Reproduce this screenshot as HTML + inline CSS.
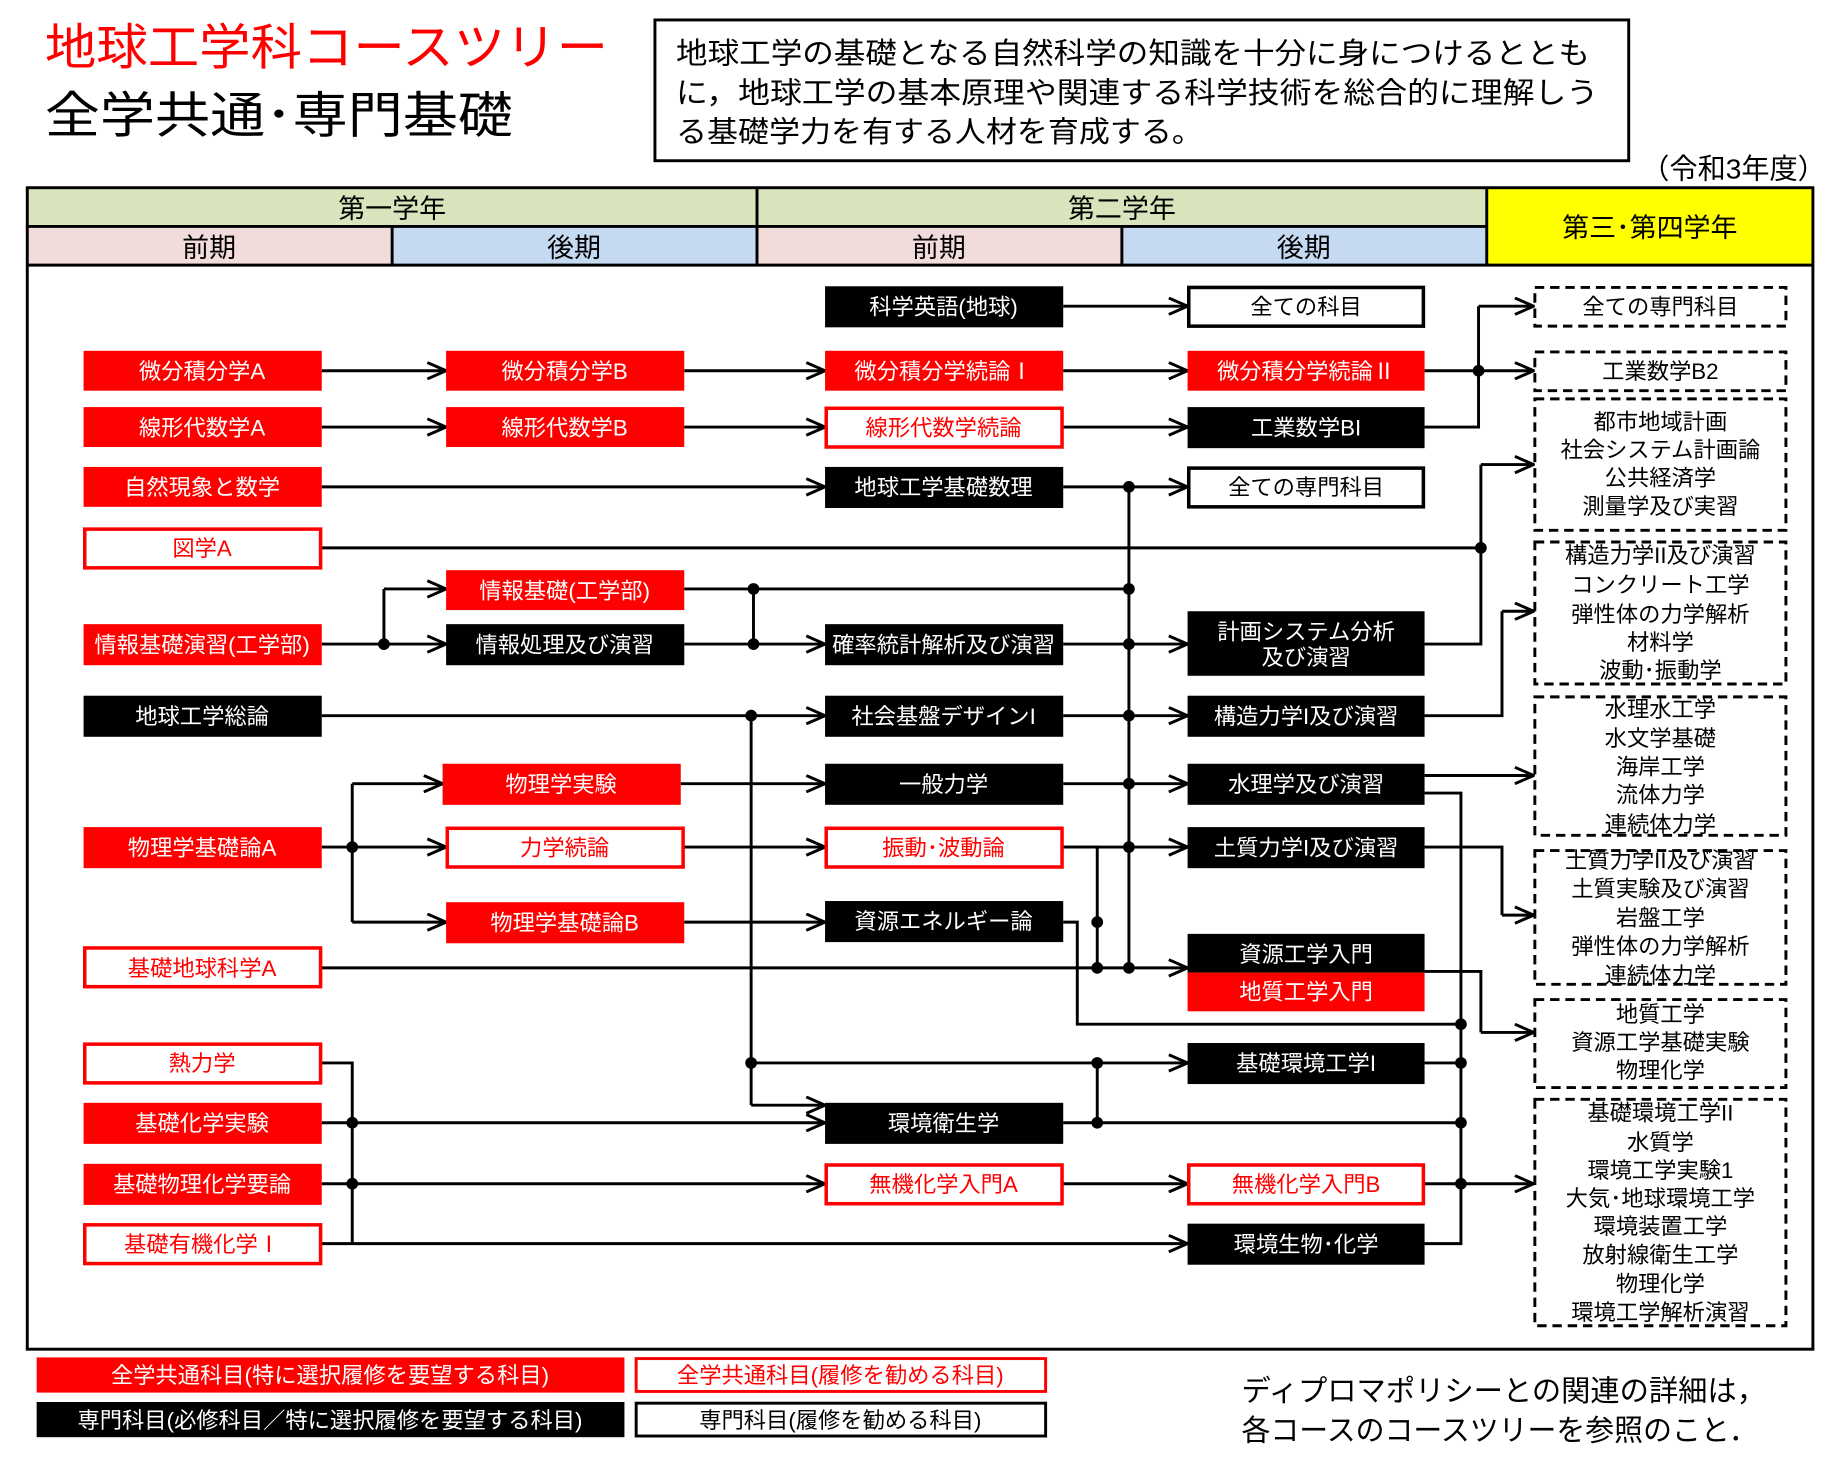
<!DOCTYPE html>
<html><head><meta charset="utf-8"><style>
html,body{margin:0;padding:0;background:#fff}
svg{display:block}
text{font-family:"Liberation Sans","Noto Sans CJK JP",sans-serif}
.r{fill:#f00}.ro{fill:#fff;stroke:#f00;stroke-width:3}.k{fill:#000}.ko{fill:#fff;stroke:#000;stroke-width:3}.d{fill:#fff;stroke:#000;stroke-width:2.5;stroke-dasharray:8 5}
.tw{fill:#fff;font-size:19px;text-anchor:middle}.tr{fill:#f00;font-size:19px;text-anchor:middle}.tb{fill:#000;font-size:19px;text-anchor:middle}
.l{fill:none;stroke:#000;stroke-width:2.5}
.a{fill:none;stroke:#000;stroke-width:2.5;marker-end:url(#ar)}
</style></head><body>
<svg width="1839" height="1463" viewBox="0 0 1567 1247" xmlns="http://www.w3.org/2000/svg">
<defs><marker id="ar" markerUnits="userSpaceOnUse" markerWidth="20" markerHeight="16" refX="18" refY="8" orient="auto"><polyline points="2,1 18,8 2,15" fill="none" stroke="#000" stroke-width="2.5"/></marker></defs>
<text x="38" y="55" font-size="42" fill="#f00" textLength="480" lengthAdjust="spacingAndGlyphs">地球工学科コースツリー</text>
<text x="38" y="113" font-size="42" fill="#000" textLength="399" lengthAdjust="spacingAndGlyphs">全学共通･専門基礎</text>
<rect x="558" y="17" width="830" height="120" fill="#fff" stroke="#000" stroke-width="2.5"/>
<text x="576" y="54" font-size="25" textLength="779" lengthAdjust="spacingAndGlyphs">地球工学の基礎となる自然科学の知識を十分に身につけるととも</text>
<text x="576" y="88" font-size="25" textLength="786" lengthAdjust="spacingAndGlyphs">に，地球工学の基本原理や関連する科学技術を総合的に理解しう</text>
<text x="576" y="121" font-size="25" textLength="449" lengthAdjust="spacingAndGlyphs">る基礎学力を有する人材を育成する。</text>
<text x="1556" y="152" font-size="24" text-anchor="end">（令和3年度）</text>
<rect x="23" y="160" width="622" height="33" fill="#d8e4bc"/><rect x="645" y="160" width="622" height="33" fill="#d8e4bc"/>
<rect x="23" y="193" width="311" height="33" fill="#f2dcdb"/><rect x="334" y="193" width="311" height="33" fill="#c5d9f1"/>
<rect x="645" y="193" width="311" height="33" fill="#f2dcdb"/><rect x="956" y="193" width="311" height="33" fill="#c5d9f1"/>
<rect x="1267" y="160" width="278" height="66" fill="#ff0"/>
<rect x="23" y="160" width="1522" height="990" fill="none" stroke="#000" stroke-width="2.5"/>
<path class="l" d="M23 193H1267M23 226H1545M645 160V226M334 193V226M956 193V226M1267 160V226"/>
<g font-size="23" text-anchor="middle"><text x="334" y="186">第一学年</text><text x="956" y="186">第二学年</text><text x="178" y="219">前期</text><text x="489" y="219">後期</text><text x="800" y="219">前期</text><text x="1111" y="219">後期</text><text x="1406" y="202">第三･第四学年</text></g>
<!-- connectors -->
<path class="a" d="M906 261H1012"/>
<path class="a" d="M274 316H380"/><path class="a" d="M583 316H703"/><path class="a" d="M906 316H1012"/>
<path class="a" d="M1214 316H1307"/><path class="l" d="M1214 364H1260V261"/><path class="a" d="M1260 261H1307"/>
<path class="a" d="M274 364H380"/><path class="a" d="M583 364H703"/><path class="a" d="M906 364H1012"/>
<path class="a" d="M274 415H703"/><path class="a" d="M906 415H1012"/>
<path class="l" d="M962 415V825"/>
<path class="l" d="M274 467H1262V396"/><path class="a" d="M1262 396H1307"/>
<path class="l" d="M1214 549H1262V467"/>
<path class="l" d="M274 549H327V502"/><path class="a" d="M327 502H380"/><path class="a" d="M327 549H380"/>
<path class="l" d="M583 502H962M642 502V549"/><path class="a" d="M583 549H703"/><path class="a" d="M906 549H1012"/>
<path class="a" d="M274 610H703"/><path class="a" d="M906 610H1012"/>
<path class="l" d="M1214 610H1280V521"/><path class="a" d="M1280 521H1307"/>
<path class="l" d="M640 610V942"/><path class="a" d="M640 942H703"/><path class="a" d="M640 906H1012"/>
<path class="l" d="M274 722H300M300 668V786"/><path class="a" d="M300 668H377"/><path class="a" d="M300 722H380"/><path class="a" d="M300 786H380"/>
<path class="a" d="M580 668H703"/><path class="a" d="M906 668H1012"/>
<path class="a" d="M1214 661H1307"/><path class="l" d="M1214 676H1245V1060H1214"/>
<path class="a" d="M583 722H703"/><path class="a" d="M906 722H1012"/>
<path class="l" d="M1214 722H1280V780"/><path class="a" d="M1280 780H1307"/>
<path class="a" d="M583 786H703"/>
<path class="l" d="M906 722H935V825M906 786H918V873H1245"/>
<path class="a" d="M274 825H1012"/>
<path class="l" d="M1214 828H1262V880"/><path class="a" d="M1262 880H1307"/>
<path class="l" d="M935 906V957M1214 906H1245M906 957H1245"/>
<path class="a" d="M1214 1009H1307"/>
<path class="l" d="M274 906H300V1060"/><path class="a" d="M274 957H703"/><path class="a" d="M274 1009H703"/><path class="a" d="M906 1009H1012"/>
<path class="a" d="M274 1060H1012"/>
<g fill="#000">
<circle cx="1260" cy="316" r="5"/><circle cx="962" cy="415" r="5"/><circle cx="1262" cy="467" r="5"/>
<circle cx="327" cy="549" r="5"/><circle cx="642" cy="502" r="5"/><circle cx="642" cy="549" r="5"/><circle cx="962" cy="502" r="5"/><circle cx="962" cy="549" r="5"/>
<circle cx="640" cy="610" r="5"/><circle cx="962" cy="610" r="5"/><circle cx="962" cy="668" r="5"/><circle cx="962" cy="722" r="5"/><circle cx="962" cy="825" r="5"/>
<circle cx="300" cy="722" r="5"/><circle cx="935" cy="786" r="5"/><circle cx="935" cy="825" r="5"/>
<circle cx="1245" cy="873" r="5"/><circle cx="1245" cy="906" r="5"/><circle cx="1245" cy="957" r="5"/><circle cx="1245" cy="1009" r="5"/>
<circle cx="640" cy="906" r="5"/><circle cx="935" cy="906" r="5"/><circle cx="935" cy="957" r="5"/>
<circle cx="300" cy="957" r="5"/><circle cx="300" cy="1009" r="5"/>
</g>
<!-- col1 -->
<rect class="r" x="71" y="299" width="203" height="34"/><text class="tw" x="172" y="323">微分積分学A</text>
<rect class="r" x="71" y="347" width="203" height="34"/><text class="tw" x="172" y="371">線形代数学A</text>
<rect class="r" x="71" y="398" width="203" height="34"/><text class="tw" x="172" y="422">自然現象と数学</text>
<rect class="ro" x="72" y="451" width="201" height="33"/><text class="tr" x="172" y="474">図学A</text>
<rect class="r" x="71" y="532" width="203" height="35"/><text class="tw" x="172" y="556">情報基礎演習(工学部)</text>
<rect class="k" x="71" y="593" width="203" height="35"/><text class="tw" x="172" y="617">地球工学総論</text>
<rect class="r" x="71" y="705" width="203" height="35"/><text class="tw" x="172" y="729">物理学基礎論A</text>
<rect class="ro" x="72" y="808" width="201" height="33"/><text class="tr" x="172" y="832">基礎地球科学A</text>
<rect class="ro" x="72" y="890" width="201" height="33"/><text class="tr" x="172" y="913">熱力学</text>
<rect class="r" x="71" y="940" width="203" height="35"/><text class="tw" x="172" y="964">基礎化学実験</text>
<rect class="r" x="71" y="992" width="203" height="35"/><text class="tw" x="172" y="1016">基礎物理化学要論</text>
<rect class="ro" x="72" y="1044" width="201" height="33"/><text class="tr" x="172" y="1067">基礎有機化学Ⅰ</text>
<!-- col2 -->
<rect class="r" x="380" y="299" width="203" height="34"/><text class="tw" x="481" y="323">微分積分学B</text>
<rect class="r" x="380" y="347" width="203" height="34"/><text class="tw" x="481" y="371">線形代数学B</text>
<rect class="r" x="380" y="486" width="203" height="34"/><text class="tw" x="481" y="510">情報基礎(工学部)</text>
<rect class="k" x="380" y="532" width="203" height="35"/><text class="tw" x="481" y="556">情報処理及び演習</text>
<rect class="r" x="377" y="651" width="203" height="35"/><text class="tw" x="478" y="675">物理学実験</text>
<rect class="ro" x="381" y="706" width="201" height="33"/><text class="tr" x="481" y="729">力学続論</text>
<rect class="r" x="380" y="769" width="203" height="35"/><text class="tw" x="481" y="793">物理学基礎論B</text>
<!-- col3 -->
<rect class="k" x="703" y="244" width="203" height="35"/><text class="tw" x="804" y="268">科学英語(地球)</text>
<rect class="r" x="703" y="299" width="203" height="34"/><text class="tw" x="804" y="323">微分積分学続論Ⅰ</text>
<rect class="ro" x="704" y="348" width="201" height="33"/><text class="tr" x="804" y="371">線形代数学続論</text>
<rect class="k" x="703" y="398" width="203" height="35"/><text class="tw" x="804" y="422">地球工学基礎数理</text>
<rect class="k" x="703" y="532" width="203" height="35"/><text class="tw" x="804" y="556">確率統計解析及び演習</text>
<rect class="k" x="703" y="593" width="203" height="35"/><text class="tw" x="804" y="617">社会基盤デザインI</text>
<rect class="k" x="703" y="651" width="203" height="35"/><text class="tw" x="804" y="675">一般力学</text>
<rect class="ro" x="704" y="706" width="201" height="33"/><text class="tr" x="804" y="729">振動･波動論</text>
<rect class="k" x="703" y="768" width="203" height="35"/><text class="tw" x="804" y="792">資源エネルギー論</text>
<rect class="k" x="703" y="940" width="203" height="35"/><text class="tw" x="804" y="964">環境衛生学</text>
<rect class="ro" x="704" y="993" width="201" height="33"/><text class="tr" x="804" y="1016">無機化学入門A</text>
<!-- col4 -->
<rect class="ko" x="1013" y="245" width="200" height="33"/><text class="tb" x="1113" y="268">全ての科目</text>
<rect class="r" x="1012" y="299" width="202" height="34"/><text class="tw" x="1113" y="323">微分積分学続論Ⅱ</text>
<rect class="k" x="1012" y="347" width="202" height="35"/><text class="tw" x="1113" y="371">工業数学BI</text>
<rect class="ko" x="1013" y="399" width="200" height="33"/><text class="tb" x="1113" y="422">全ての専門科目</text>
<rect class="k" x="1012" y="521" width="202" height="55"/><text class="tw" x="1113" y="545">計画システム分析</text><text class="tw" x="1113" y="567">及び演習</text>
<rect class="k" x="1012" y="593" width="202" height="35"/><text class="tw" x="1113" y="617">構造力学I及び演習</text>
<rect class="k" x="1012" y="651" width="202" height="35"/><text class="tw" x="1113" y="675">水理学及び演習</text>
<rect class="k" x="1012" y="705" width="202" height="35"/><text class="tw" x="1113" y="729">土質力学I及び演習</text>
<rect class="k" x="1012" y="796" width="202" height="33"/><text class="tw" x="1113" y="820">資源工学入門</text>
<rect class="r" x="1012" y="829" width="202" height="33"/><text class="tw" x="1113" y="852">地質工学入門</text>
<rect class="k" x="1012" y="889" width="202" height="35"/><text class="tw" x="1113" y="913">基礎環境工学I</text>
<rect class="ro" x="1013" y="993" width="200" height="33"/><text class="tr" x="1113" y="1016">無機化学入門B</text>
<rect class="k" x="1012" y="1043" width="202" height="35"/><text class="tw" x="1113" y="1067">環境生物･化学</text>
<!-- col5 -->
<g class="tb">
<rect class="d" x="1308" y="245" width="214" height="33"/><text x="1415" y="268">全ての専門科目</text>
<rect class="d" x="1308" y="300" width="214" height="33"/><text x="1415" y="323">工業数学B2</text>
<rect class="d" x="1308" y="340" width="214" height="112"/><text x="1415" y="366">都市地域計画</text><text x="1415" y="390">社会システム計画論</text><text x="1415" y="414">公共経済学</text><text x="1415" y="438">測量学及び実習</text>
<rect class="d" x="1308" y="462" width="214" height="121"/><text x="1415" y="480">構造力学II及び演習</text><text x="1415" y="505">コンクリート工学</text><text x="1415" y="530">弾性体の力学解析</text><text x="1415" y="554">材料学</text><text x="1415" y="578">波動･振動学</text>
<rect class="d" x="1308" y="594" width="214" height="118"/><text x="1415" y="611">水理水工学</text><text x="1415" y="636">水文学基礎</text><text x="1415" y="660">海岸工学</text><text x="1415" y="684">流体力学</text><text x="1415" y="709">連続体力学</text>
<rect class="d" x="1308" y="725" width="214" height="114"/><text x="1415" y="740">土質力学II及び演習</text><text x="1415" y="764">土質実験及び演習</text><text x="1415" y="789">岩盤工学</text><text x="1415" y="813">弾性体の力学解析</text><text x="1415" y="838">連続体力学</text>
<rect class="d" x="1308" y="852" width="214" height="75"/><text x="1415" y="871">地質工学</text><text x="1415" y="895">資源工学基礎実験</text><text x="1415" y="919">物理化学</text>
<rect class="d" x="1308" y="937" width="214" height="193"/><text x="1415" y="955">基礎環境工学II</text><text x="1415" y="980">水質学</text><text x="1415" y="1004">環境工学実験1</text><text x="1415" y="1028">大気･地球環境工学</text><text x="1415" y="1052">環境装置工学</text><text x="1415" y="1076">放射線衛生工学</text><text x="1415" y="1101">物理化学</text><text x="1415" y="1125">環境工学解析演習</text>
</g>
<!-- legend -->
<rect x="31" y="1157" width="501" height="30" fill="#f00"/><text class="tw" x="281" y="1179">全学共通科目(特に選択履修を要望する科目)</text>
<rect x="542" y="1158" width="349" height="28" fill="#fff" stroke="#f00" stroke-width="2.5"/><text class="tr" x="716" y="1179">全学共通科目(履修を勧める科目)</text>
<rect x="31" y="1195" width="501" height="30" fill="#000"/><text class="tw" x="281" y="1217">専門科目(必修科目／特に選択履修を要望する科目)</text>
<rect x="542" y="1196" width="349" height="28" fill="#fff" stroke="#000" stroke-width="2.5"/><text class="tb" x="716" y="1217">専門科目(履修を勧める科目)</text>
<text x="1058" y="1194" font-size="25" textLength="447" lengthAdjust="spacingAndGlyphs">ディプロマポリシーとの関連の詳細は，</text>
<text x="1058" y="1228" font-size="25" textLength="440" lengthAdjust="spacingAndGlyphs">各コースのコースツリーを参照のこと．</text>
</svg>
</body></html>
